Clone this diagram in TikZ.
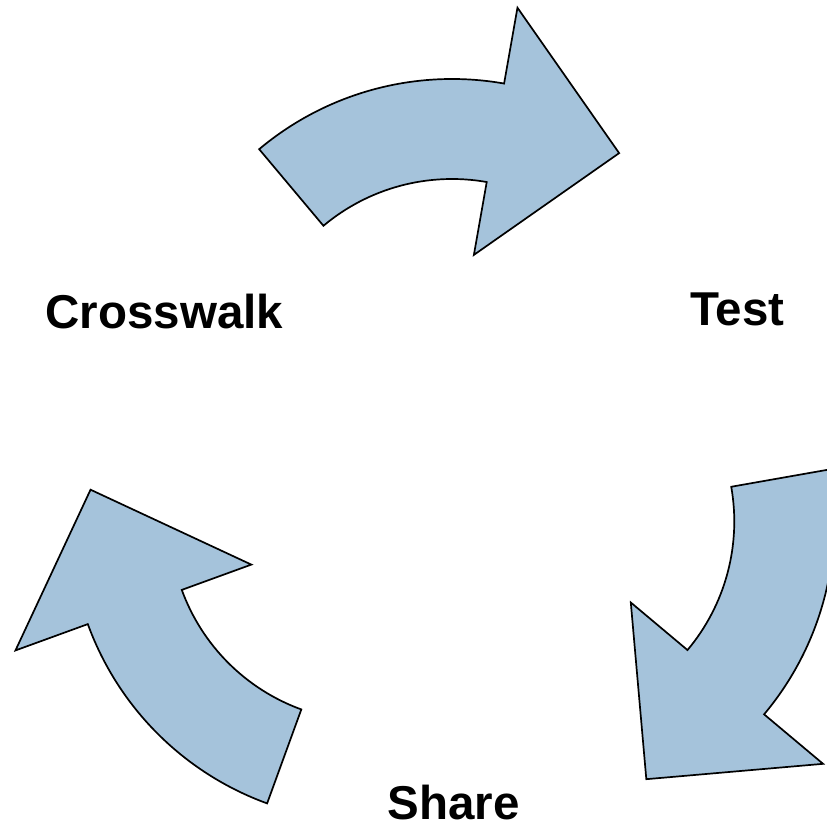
\documentclass[tikz,border=0pt]{standalone}
\usepackage{fontspec}
\setmainfont{Liberation Sans}
\usepackage{tikz}
\usetikzlibrary{arrows.meta}

\definecolor{arrowblue}{RGB}{165,195,219}

\tikzset{
	cyclearrow/.style={fill=arrowblue, draw=black, line width=1.7pt, line join=miter},
	steplabel/.style={font=\bfseries\fontsize{47.5}{52}\selectfont, inner sep=0pt, anchor=base}
}

\begin{document}
\begin{tikzpicture}[x=1pt, y=1pt]
		\useasboundingbox (0,0) rectangle (827,828);
		\clip (0,0) rectangle (827,828);
		\coordinate (hub) at (452,354);

		% three bent arrows, each turned 120 degrees from the last
		\foreach \ang in {90,210,330} {
			\begin{scope}[shift={(hub)}, shift={(\ang:95)}, rotate=\ang-90]
				\draw[cyclearrow] (130:300) arc[start angle=130, end angle=80, radius=300pt]
					-- (80:377) -- (53.5:281) -- (80:126) -- (80:200)
					arc[start angle=80, end angle=130, radius=200pt] -- cycle;
			\end{scope}
		}

		\node[steplabel] (crosswalk) at (164.5,499) {Crosswalk};
		\node[steplabel] (test) at (737.5,502) {Test};
		\node[steplabel] (share) at (453.5,8.5) {Share};
	\end{tikzpicture}
\end{document}
